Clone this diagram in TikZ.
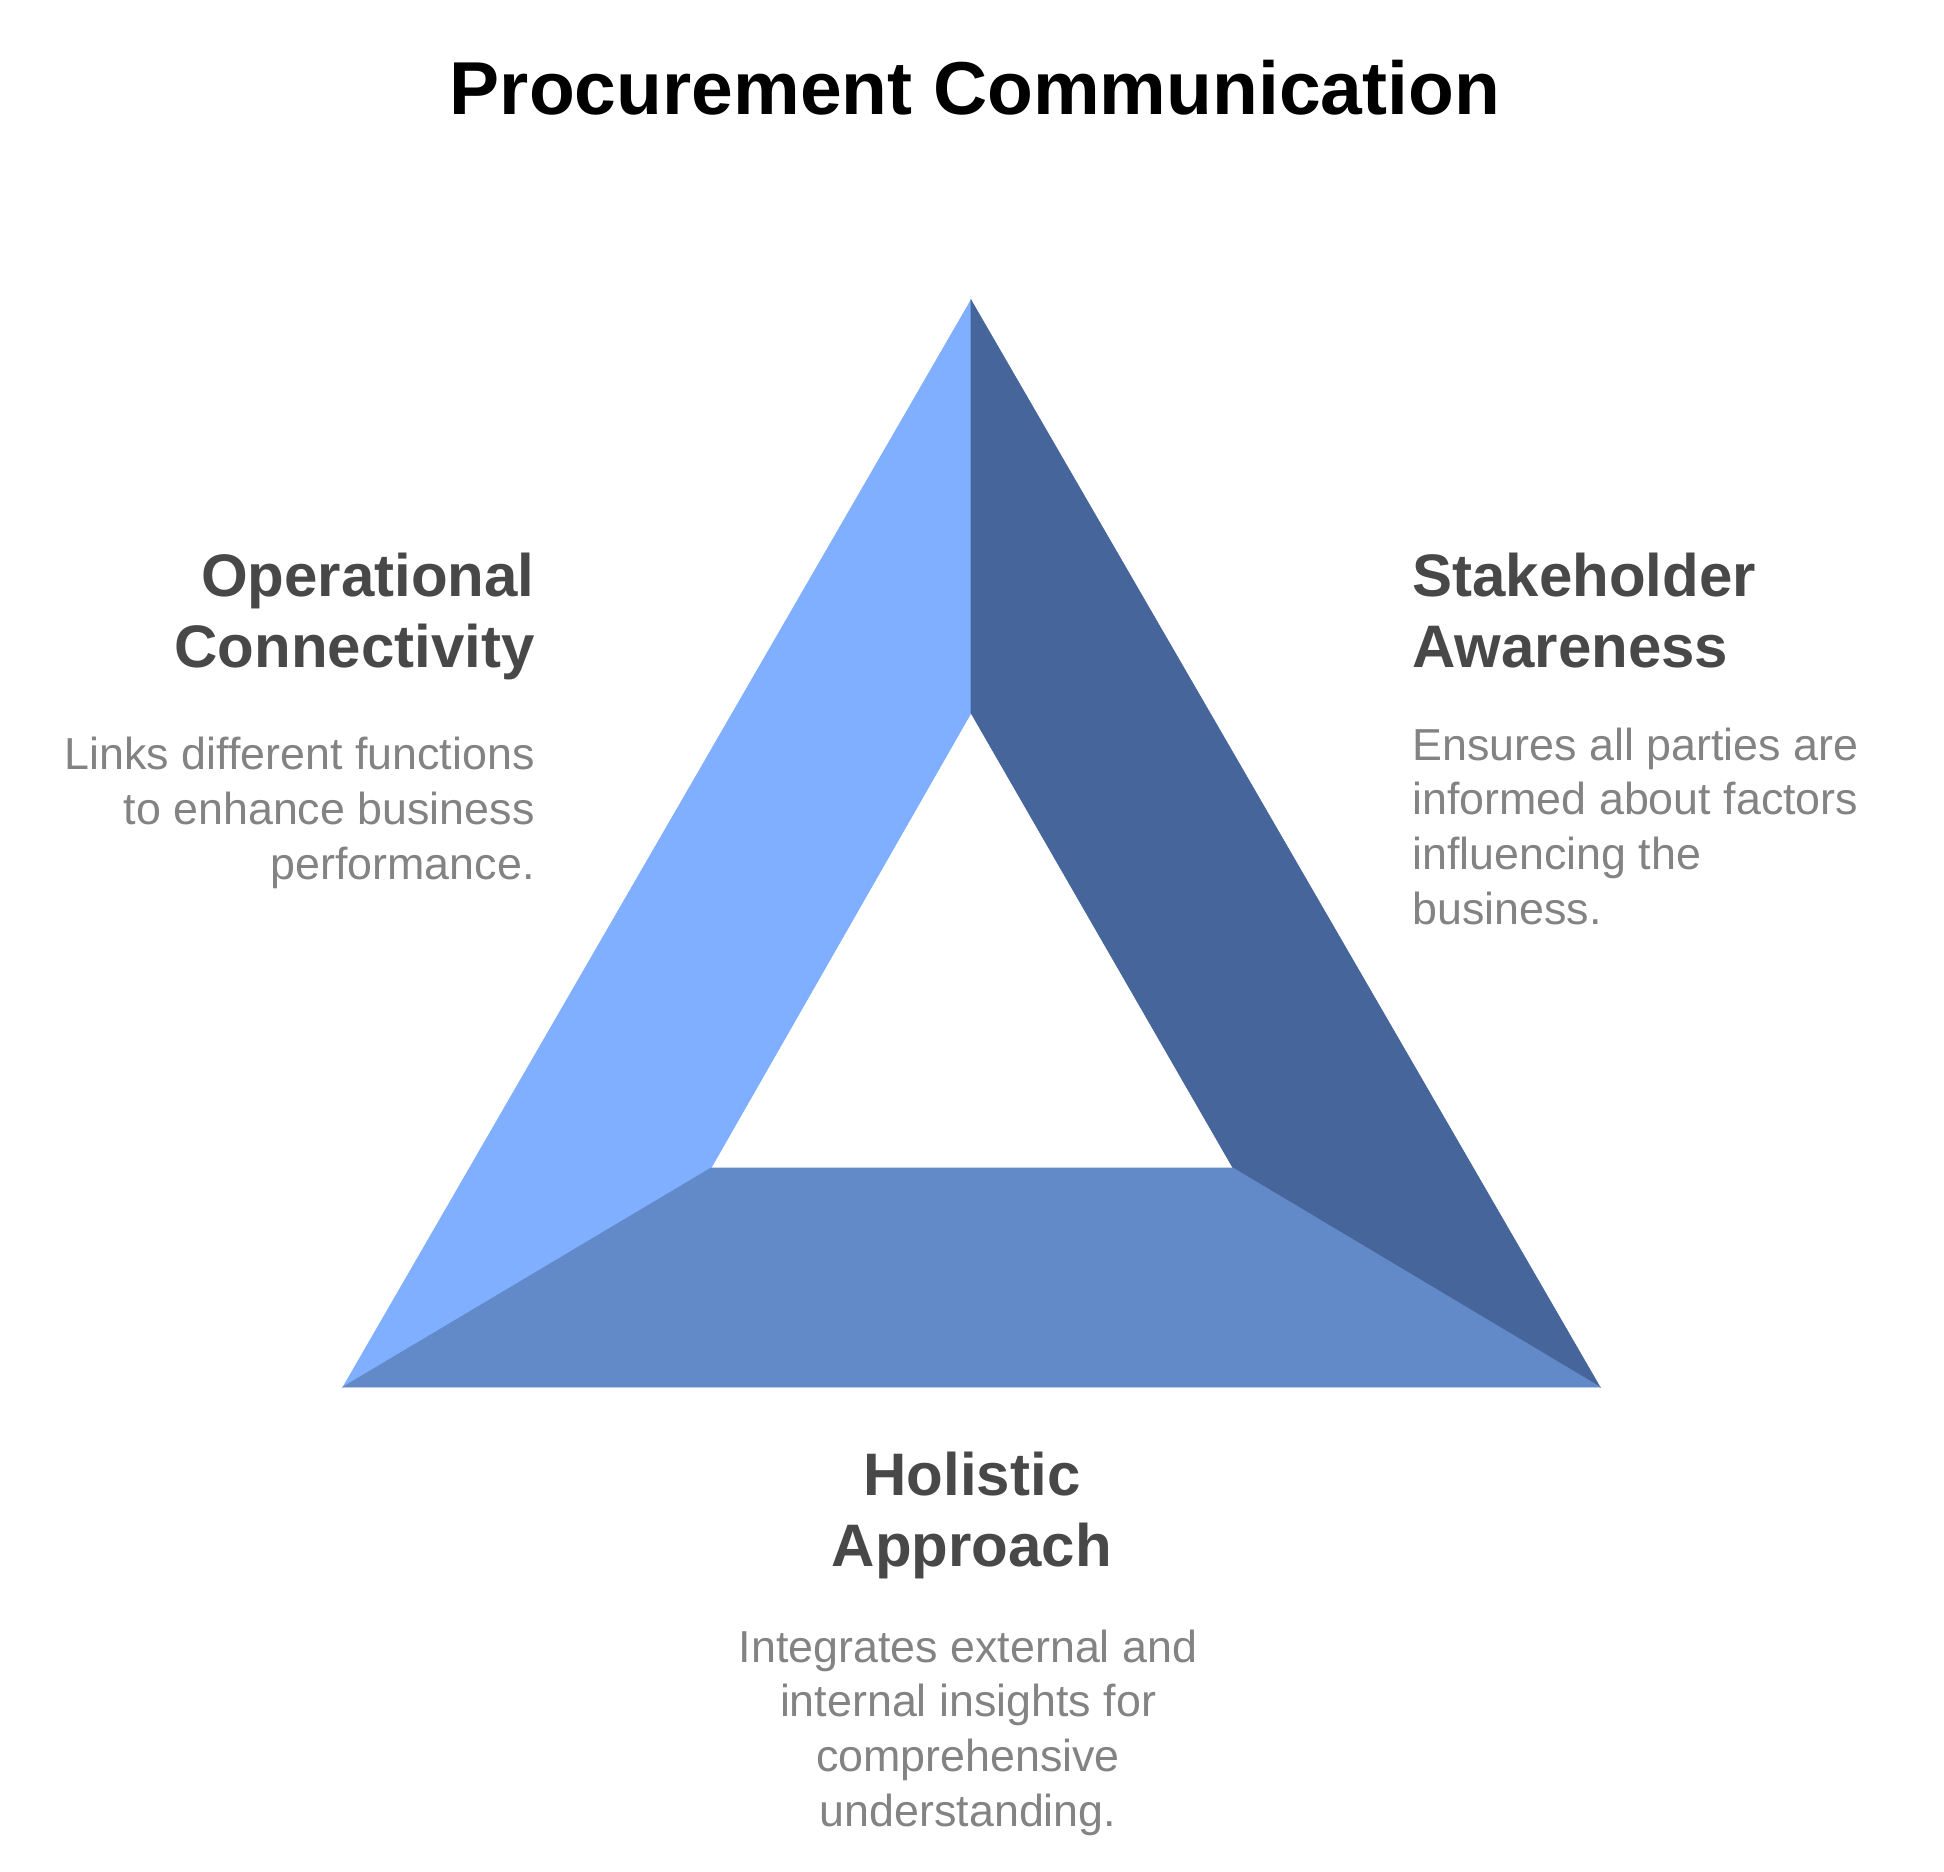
\documentclass[tikz,border=0pt]{standalone}
\usepackage{fontspec}
\setmainfont{Liberation Sans}
\usepackage{xcolor}
\definecolor{faceLight}{HTML}{7FAFFE}
\definecolor{faceMid}{HTML}{6289C8}
\definecolor{faceDark}{HTML}{46659A}
\definecolor{headGray}{HTML}{484848}
\definecolor{bodyGray}{HTML}{838383}
\tikzset{
    face-left/.style = {fill=faceLight, draw=faceLight, line width=0.3pt},
    face-right/.style = {fill=faceDark, draw=faceDark, line width=0.3pt},
    face-bottom/.style = {fill=faceMid, draw=faceMid, line width=0.3pt},
    title-text/.style = {font=\fontsize{37.5}{45}\selectfont\bfseries, text=black, inner sep=0pt},
    heading-text/.style = {font=\fontsize{30}{35.5}\selectfont\bfseries, text=headGray, inner sep=0pt},
    detail-text/.style = {font=\fontsize{22.4}{27.3}\selectfont, text=bodyGray, inner sep=0pt},
}

\begin{document}
\begin{tikzpicture}[x=0.5pt, y=-0.5pt]
\fill[white] (0,0) rectangle (1944,1872);
\useasboundingbox (0,0) rectangle (1944,1872);

% triangle corners
\coordinate (outer-top) at (971,300);
\coordinate (outer-left) at (343,1387);
\coordinate (outer-right) at (1600,1387);
\coordinate (inner-top) at (971,713);
\coordinate (inner-left) at (711,1168);
\coordinate (inner-right) at (1233,1168);

% three faces
\filldraw[face-left] (outer-top) -- (inner-top) -- (inner-left) -- (outer-left) -- cycle;
\filldraw[face-right] (outer-top) -- (outer-right) -- (inner-right) -- (inner-top) -- cycle;
\filldraw[face-bottom] (outer-left) -- (inner-left) -- (inner-right) -- (outer-right) -- cycle;

\node[title-text, anchor=base] (title) at (975,115) {Procurement Communication};

% labels, anchored at the baseline of their last line
\node[heading-text, anchor=base east, align=right] (op-head) at (535,667) {Operational\\Connectivity};
\node[detail-text, anchor=base east, align=right] (op-text) at (535,879) {Links different functions\\to enhance business\\performance.};

\node[heading-text, anchor=base west, align=left] (sh-head) at (1412,667) {Stakeholder\\Awareness};
\node[detail-text, anchor=base west, align=left] (sh-text) at (1412,924) {Ensures all parties are\\informed about factors\\influencing the\\business.};

\node[heading-text, anchor=base, align=center] (ha-head) at (972,1566) {Holistic\\Approach};
\node[detail-text, anchor=base, align=center] (ha-text) at (968,1826) {Integrates external and\\internal insights for\\comprehensive\\understanding.};
\end{tikzpicture}
\end{document}
